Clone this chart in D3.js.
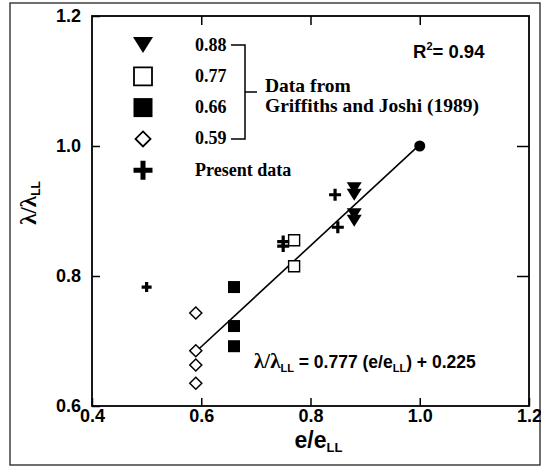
<!DOCTYPE html>
<html>
<head>
<meta charset="utf-8">
<script src="https://cdn.jsdelivr.net/npm/d3@7"></script>
<style>
  body { margin: 0; background: #fff; }
  svg text { fill: #000; }
</style>
</head>
<body>
<div id="viz"></div>
<script>
// values
const xTicks = [0.4, 0.6, 0.8, 1.0, 1.2],
  yTicks = [0.6, 0.8, 1.0, 1.2];

const legendLabels = ['0.88', '0.77', '0.66', '0.59', 'Present data'];

// Griffiths and Joshi (1989): x is the e/eLL value of the series
const triX = 0.88, triY = [0.935, 0.925, 0.895, 0.885];
const openSqX = 0.77, openSqY = [0.855, 0.815];
const fillSqX = 0.66, fillSqY = [0.783, 0.723, 0.692];
const diamX = 0.59, diamY = [0.743, 0.685, 0.663, 0.635];

// present data
const presentX = [0.5, 0.75, 0.75, 0.845, 0.85],
  presentY = [0.783, 0.853, 0.846, 0.925, 0.875];

const refPoint = [1.0, 1.0];
const fit = { slope: 0.777, intercept: 0.225, from: 0.59, to: 1.0 };

const width = 541, height = 468;
const plot = { left: 92, right: 529, top: 16, bottom: 406 };
const sans = '"Liberation Sans", Arial, sans-serif',
  serif = '"Liberation Serif", "Times New Roman", serif';

const svg = d3.select('#viz').append('svg')
  .attr('width', width)
  .attr('height', height);

const x = d3.scaleLinear().domain([0.4, 1.2]).range([plot.left, plot.right]);
const y = d3.scaleLinear().domain([0.6, 1.2]).range([plot.bottom, plot.top]);

// outer frame of the scanned figure
svg.append('rect')
  .attr('x', 10).attr('y', 3)
  .attr('width', 530).attr('height', 462)
  .attr('fill', 'none').attr('stroke', '#222').attr('stroke-width', 1.3);

// axes (ticks point inward)
const fmt = d3.format('.1f');
function styleAxis(g, labels) {
  g.select('.domain').remove();
  g.selectAll('line').attr('stroke', '#000').attr('stroke-width', 1.5);
  g.selectAll('text')
    .style('font-family', sans).style('font-weight', 'bold').style('font-size', '18px')
    .style('display', labels ? null : 'none');
}
svg.append('g').attr('transform', `translate(0,${plot.bottom})`)
  .call(d3.axisBottom(x).tickValues(xTicks).tickSize(-8).tickPadding(3).tickFormat(fmt))
  .call(g => styleAxis(g, true));
svg.append('g').attr('transform', `translate(${plot.left},0)`)
  .call(d3.axisLeft(y).tickValues(yTicks).tickSize(-8).tickPadding(11).tickFormat(fmt))
  .call(g => styleAxis(g, true));
svg.append('g').attr('transform', `translate(0,${plot.top})`)
  .call(d3.axisTop(x).tickValues(xTicks.slice(1, -1)).tickSize(-9))
  .call(g => styleAxis(g, false));
svg.append('g').attr('transform', `translate(${plot.right},0)`)
  .call(d3.axisRight(y).tickValues(yTicks.slice(1, -1)).tickSize(-12))
  .call(g => styleAxis(g, false));

svg.append('rect')
  .attr('x', plot.left).attr('y', plot.top)
  .attr('width', plot.right - plot.left).attr('height', plot.bottom - plot.top)
  .attr('fill', 'none').attr('stroke', '#000').attr('stroke-width', 1.8);

// axis titles
const xt = svg.append('text')
  .attr('x', x(0.8) + 8).attr('y', 448)
  .attr('text-anchor', 'middle')
  .style('font-family', sans).style('font-weight', 'bold').style('font-size', '23px');
xt.append('tspan').text('e/e');
xt.append('tspan').attr('dy', 4).style('font-size', '13px').text('LL');

const yt = svg.append('text')
  .attr('transform', 'translate(36,203) rotate(-90)')
  .attr('text-anchor', 'middle')
  .style('font-size', '23px');
yt.append('tspan').style('font-family', serif).style('font-weight', 'bold').text('λ/λ');
yt.append('tspan').attr('dy', 4).style('font-family', sans).style('font-weight', 'bold')
  .style('font-size', '12px').text('LL');

// marker shapes
function tri(w, h) { return `M${-w / 2},${-h / 2}L${w / 2},${-h / 2}L0,${h / 2}Z`; }
function sq(s) { return `M${-s / 2},${-s / 2}h${s}v${s}h${-s}Z`; }
function diamond(s) { return `M0,${-s / 2}L${s / 2},0L0,${s / 2}L${-s / 2},0Z`; }
function plus(s) { return `M${-s / 2},0H${s / 2}M0,${-s / 2}V${s / 2}`; }

// regression line
svg.append('line')
  .attr('x1', x(fit.from)).attr('y1', y(fit.slope * fit.from + fit.intercept))
  .attr('x2', x(fit.to)).attr('y2', y(fit.slope * fit.to + fit.intercept))
  .attr('stroke', '#000').attr('stroke-width', 1.6);

svg.append('circle')
  .attr('cx', x(refPoint[0])).attr('cy', y(refPoint[1])).attr('r', 5.5)
  .attr('fill', '#000');

svg.selectAll('.tri').data(triY).enter().append('path')
  .attr('d', tri(15, 12))
  .attr('transform', d => `translate(${x(triX)},${y(d)})`)
  .attr('fill', '#000');
svg.selectAll('.osq').data(openSqY).enter().append('path')
  .attr('d', sq(11))
  .attr('transform', d => `translate(${x(openSqX)},${y(d)})`)
  .attr('fill', '#fff').attr('stroke', '#000').attr('stroke-width', 1.4);
svg.selectAll('.fsq').data(fillSqY).enter().append('path')
  .attr('d', sq(12))
  .attr('transform', d => `translate(${x(fillSqX)},${y(d)})`)
  .attr('fill', '#000');
svg.selectAll('.dia').data(diamY).enter().append('path')
  .attr('d', diamond(12))
  .attr('transform', d => `translate(${x(diamX)},${y(d)})`)
  .attr('fill', '#fff').attr('stroke', '#000').attr('stroke-width', 1.5);
svg.selectAll('.pls').data(presentX).enter().append('path')
  .attr('d', (d, i) => plus(i === 0 ? 10 : 12))
  .attr('transform', (d, i) => `translate(${x(d)},${y(presentY[i])})`)
  .attr('fill', 'none').attr('stroke', '#000').attr('stroke-width', 3.2);

// legend
const legY = i => 45 + i * 31.3;
const legendShapes = [
  { d: tri(20, 16), fill: '#000', stroke: 'none' },
  { d: sq(18), fill: '#fff', stroke: '#000' },
  { d: sq(19), fill: '#000', stroke: 'none' },
  { d: diamond(15), fill: '#fff', stroke: '#000' },
  { d: plus(19), fill: 'none', stroke: '#000', sw: 5 }
];
const leg = svg.append('g');
leg.selectAll('path').data(legendShapes).enter().append('path')
  .attr('d', d => d.d)
  .attr('transform', (d, i) => `translate(143,${legY(i)})`)
  .attr('fill', d => d.fill).attr('stroke', d => d.stroke)
  .attr('stroke-width', d => d.sw || 1.8);
leg.selectAll('text').data(legendLabels).enter().append('text')
  .attr('x', 195).attr('y', (d, i) => legY(i) + 5.5)
  .style('font-family', serif).style('font-weight', 'bold').style('font-size', '18px')
  .text(d => d);

// bracket round the Griffiths and Joshi rows
const bx = 245;
leg.append('path')
  .attr('d', `M231,${legY(0)}H${bx}V${legY(3)}H231M${bx},${(legY(0) + legY(3)) / 2}H257`)
  .attr('fill', 'none').attr('stroke', '#000').attr('stroke-width', 1.5);
leg.append('text').attr('x', 265).attr('y', 92)
  .style('font-family', serif).style('font-weight', 'bold').style('font-size', '19.5px')
  .text('Data from');
leg.append('text').attr('x', 265).attr('y', 112)
  .style('font-family', serif).style('font-weight', 'bold').style('font-size', '19.5px')
  .text('Griffiths and Joshi (1989)');

// R squared
const r2 = svg.append('text').attr('x', 413).attr('y', 58)
  .style('font-family', sans).style('font-weight', 'bold').style('font-size', '18.5px');
r2.append('tspan').text('R');
r2.append('tspan').attr('dy', -8).style('font-size', '11px').text('2');
r2.append('tspan').attr('dy', 8).text('= 0.94');

// fit equation
const eq = svg.append('text').attr('x', 254).attr('y', 368)
  .style('font-family', sans).style('font-weight', 'bold').style('font-size', '17.5px');
eq.append('tspan').style('font-family', serif).style('font-size', '21px').text('λ/λ');
eq.append('tspan').attr('dy', 4).style('font-size', '11px').text('LL');
eq.append('tspan').attr('dy', -4).text(` = ${fit.slope} (e/e`);
eq.append('tspan').attr('dy', 4).style('font-size', '11px').text('LL');
eq.append('tspan').attr('dy', -4).text(`) + ${fit.intercept}`);
</script>
</body>
</html>
